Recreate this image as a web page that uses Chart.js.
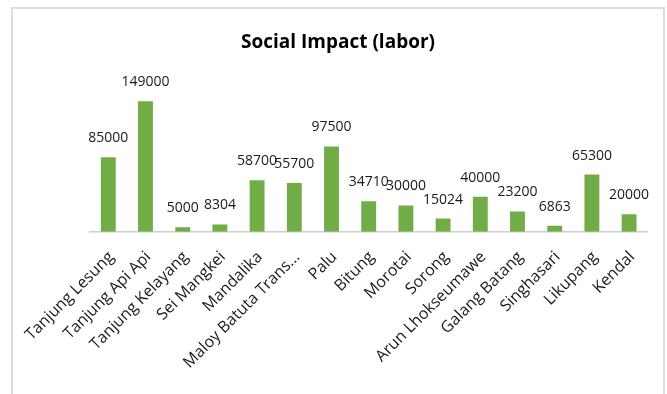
<!DOCTYPE html>
<html>
<head>
<meta charset="utf-8">
<script src="https://cdn.jsdelivr.net/npm/chart.js@4/dist/chart.umd.min.js"></script>
<style>
  html, body { margin: 0; padding: 0; background: #fff; overflow: hidden; }
  #box { position: absolute; left: 11px; top: 7px; width: 654px; height: 420px; box-sizing: border-box; border: 2px solid #dcdcdc; }
  #c { display: block; }
</style>
</head>
<body>
<div id="box"><canvas id="c" width="650" height="385"></canvas></div>
<script>
const categories = ["Tanjung Lesung", "Tanjung Api Api", "Tanjung Kelayang", "Sei Mangkei", "Mandalika", "Maloy Batuta Trans...", "Palu", "Bitung", "Morotai", "Sorong", "Arun Lhokseumawe", "Galang Batang", "Singhasari", "Likupang", "Kendal"];
const laborValues = [85000, 149000, 5000, 8304, 58700, 55700, 97500, 34710, 30000, 15024, 40000, 23200, 6863, 65300, 20000];
const chartTitle = "Social Impact (labor)";

const FONT = "'Open Sans', 'DejaVu Sans', sans-serif";

const valueLabels = {
  id: 'valueLabels',
  afterDatasetsDraw(chart) {
    const ctx = chart.ctx;
    const meta = chart.getDatasetMeta(0);
    ctx.save();
    ctx.font = "14px " + FONT;
    ctx.fillStyle = "#1a1a1a";
    ctx.textAlign = "center";
    ctx.textBaseline = "alphabetic";
    meta.data.forEach((bar, i) => {
      ctx.fillText(String(chart.data.datasets[0].data[i]), bar.x, bar.y - 15);
    });
    ctx.restore();
  }
};

new Chart(document.getElementById('c'), {
  type: 'bar',
  data: {
    labels: categories,
    datasets: [{
      label: 'Labor',
      data: laborValues,
      backgroundColor: '#70AD47',
      borderWidth: 0,
      categoryPercentage: 1.0,
      barPercentage: 0.4
    }]
  },
  options: {
    responsive: false,
    animation: false,
    layout: { padding: 0 },
    plugins: {
      legend: { display: false },
      tooltip: { enabled: false },
      title: {
        display: true,
        text: chartTitle,
        color: '#000000',
        font: { family: FONT, size: 19, weight: 'bold', lineHeight: 1.2 },
        padding: { top: 22.6, bottom: 37.3 }
      }
    },
    scales: {
      x: {
        grid: { display: true, drawOnChartArea: false, drawTicks: false },
        border: { display: true, color: '#d0d0d0', width: 1.5 },
        ticks: {
          color: '#1a1a1a',
          font: { family: FONT, size: 16 },
          minRotation: 45,
          maxRotation: 45,
          autoSkip: false,
          padding: 16,
          labelOffset: 3
        },
        afterFit(scale) {
          scale.height = 162.3;
          scale.paddingLeft = 76.7;
          scale.paddingRight = 15.3;
        }
      },
      y: {
        display: false,
        min: 0,
        max: 160000
      }
    }
  },
  plugins: [valueLabels]
});
</script>
</body>
</html>
